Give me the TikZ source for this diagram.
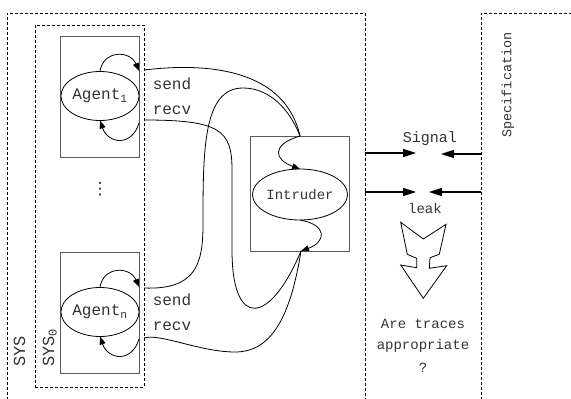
\documentclass[tikz,border=0pt]{standalone}
\usepackage{fontspec}
\setmainfont{Liberation Mono}
\newfontfamily\symfont{DejaVu Sans}
\usetikzlibrary{arrows.meta,shapes.geometric}
\begin{document}
\begin{tikzpicture}[x=1pt,y=-1pt,
  dashbox/.style={draw=black, dash pattern=on 3pt off 2pt, line width=0.8pt},
  procbox/.style={draw=black!65, line width=1pt, inner sep=0pt, outer sep=0pt},
  proc/.style={draw=black, ellipse, line width=0.8pt, minimum width=72pt, minimum height=49pt, inner sep=0pt, outer sep=0pt, text=black!80},
  wire/.style={draw=black, line width=0.8pt},
  tip/.style={-{Triangle[length=8pt,width=6pt]}},
  sig/.style={line width=1.6pt, -{Triangle[length=13pt,width=8pt]}},
  lbl/.style={text=black!80, inner sep=0pt},
  big/.style={font=\fontsize{16}{18}\selectfont},
  mid/.style={font=\fontsize{14}{16}\selectfont},
  hollow/.style={draw=black, line width=0.8pt, fill=white}
]
\useasboundingbox (0,0) rectangle (571,399);

% outer SYS and specification frames
\draw[dashbox] (7,400) -- (7,13) -- (365,13) -- (365,400);
\draw[dashbox] (481,400) -- (481,13) -- (572,13);
\node[dashbox, minimum width=109pt, minimum height=362pt, inner sep=0pt] (sys0) at (89.5,206) {};

% agent boxes
\node[procbox, minimum width=79pt, minimum height=121pt] (box1) at (99.5,96.5) {};
\node[procbox, minimum width=79pt, minimum height=121pt] (boxn) at (99.5,312.5) {};
\node[proc, big] (a1) at (100,96) {Agent\textsubscript{1}};
\node[proc, big] (an) at (100,312) {Agent\textsubscript{n}};
\node[lbl, font=\symfont\fontsize{17}{18}\selectfont] (dots) at (100,189) {⋮};

% intruder
\node[procbox, minimum width=99pt, minimum height=115pt] (ibox) at (299.5,193.5) {};
\node[proc, mid, minimum width=73pt, minimum height=51pt] (intr) at (300,194.5) {Intruder};

% coordinates
\coordinate (a1o) at (139,71);
\coordinate (a1i) at (139,123);
\coordinate (ano) at (139,287);
\coordinate (ani) at (139,339);
\coordinate (s1) at (144,70);
\coordinate (r1) at (144,120);
\coordinate (sn) at (144,288);
\coordinate (rn) at (144,338);
\coordinate (itop) at (300,136);
\coordinate (ibot) at (301,251);

% agent loops
\draw[wire,tip] (a1.north) .. controls (103,50) and (130,50) .. (a1o);
\draw[wire,tip] (a1i) .. controls (132,147) and (108,144) .. (a1.south);
\draw[wire,tip] (an.north) .. controls (103,266) and (130,266) .. (ano);
\draw[wire,tip] (ani) .. controls (132,363) and (108,360) .. (an.south);

% channels
\draw[wire] (s1) .. controls (210,62) and (285,70) .. (itop);
\draw[wire] (sn) .. controls (195,290) and (203,265) .. (203,225)
  .. controls (203,150) and (203,88) .. (243,88)
  .. controls (270,88) and (290,110) .. (itop);
\draw[wire] (r1) .. controls (220,120) and (232,130) .. (232,170) -- (232,250)
  .. controls (232,330) and (270,325) .. (ibot);
\draw[wire] (rn) .. controls (160,333) and (200,352) .. (235,352)
  .. controls (270,352) and (290,320) .. (ibot);

% intruder internal
\draw[wire,tip] (itop) .. controls (270,145) and (275,160) .. (intr.north);
\draw[wire,tip] (intr.south) .. controls (328,225) and (326,242) .. (ibot);

% labels
\node[lbl, big] (send1) at (172,84) {send};
\node[lbl, big] (recv1) at (172,110) {recv};
\node[lbl, big] (sendn) at (172,300) {send};
\node[lbl, big] (recvn) at (172,326) {recv};
\node[lbl, font=\fontsize{17}{18}\selectfont, rotate=90, anchor=base west] (sys) at (25,367) {SYS};
\node[lbl, font=\fontsize{17}{18}\selectfont, rotate=90, anchor=base west] (sysz) at (54,367) {SYS\textsubscript{0}};
\node[lbl, font=\fontsize{13.5}{16}\selectfont, rotate=90] (spec) at (508,85) {Specification};

% signal / leak
\coordinate (sL1) at (365,153);
\coordinate (sR1) at (416,153);
\coordinate (pL1) at (441,154);
\coordinate (pR1) at (481,154);
\coordinate (sL2) at (365,192);
\coordinate (sR2) at (416,192);
\coordinate (pL2) at (429,192);
\coordinate (pR2) at (481,192);
\draw[sig] (sL1) -- (sR1);
\draw[sig] (pR1) -- (pL1);
\draw[sig] (sL2) -- (sR2);
\draw[sig] (pR2) -- (pL2);
\node[lbl, font=\fontsize{15}{17}\selectfont] (signal) at (430,139) {Signal};
\node[lbl, mid] (leak) at (425,208) {leak};

% big hollow arrow
\draw[hollow] (400.7,222.3) -- (423.3,239) -- (446,224.3) -- (439.3,254.3) -- (430,257.7)
  -- (429.3,268.3) -- (446.7,265.7) -- (423.3,298.3) -- (400.7,265) -- (416.7,267.7)
  -- (416.7,258.3) -- (407.3,254.3) -- cycle;

\node[lbl, mid] (q1) at (423,324) {Are traces};
\node[lbl, mid] (q2) at (423,346) {appropriate};
\node[lbl, mid] (q3) at (423,368) {?};
\end{tikzpicture}
\end{document}
